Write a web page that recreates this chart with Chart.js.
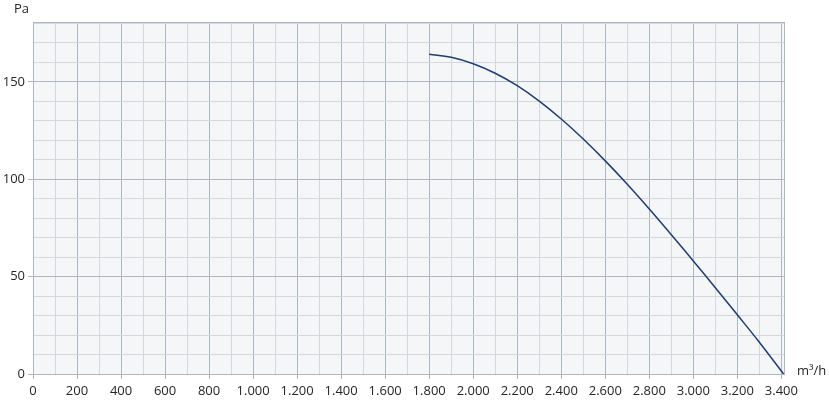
<!DOCTYPE html>
<html>
<head>
<meta charset="utf-8">
<script src="https://cdn.jsdelivr.net/npm/chart.js@4.4.0/dist/chart.umd.min.js"></script>
<style>
  html, body { margin: 0; padding: 0; background: #fff; }
  #wrap { width: 829px; height: 401px; }
</style>
</head>
<body>
<div id="wrap"><canvas id="fanChart"></canvas></div>
<script>
// Fan curve
const flowRates = [1800, 1900, 2000, 2100, 2200, 2300, 2400, 2500, 2600, 2700, 2800, 2900, 3000, 3100, 3200, 3300, 3410];
const pressures = [164.2, 162.6, 159.3, 154.4, 148.0, 140.1, 130.9, 120.6, 109.4, 97.4, 84.7, 71.5, 58.0, 44.3, 30.4, 16.3, 0];

// Axis ranges: grid every 100 m³/h / 10 Pa, labels every 200 / 50
const xMin = 0, xMax = 3412, xGridMax = 3400, xStep = 100, xLabelStep = 200;
const yMin = 0, yMax = 180.7, yGridMax = 180, yStep = 10, yLabelStep = 50;
const yUnit = 'Pa';
const xUnit = 'm³/h';

const majorGrid = '#aeb6c1';
const minorGrid = '#d4d7dc';
const textColor = '#262626';

const fmt = v => String(v).replace(/\B(?=(\d{3})+(?!\d))/g, '.');

// ticks every step up to gridMax, plus the scale end
const buildTicks = (min, gridMax, step, max) => scale => {
    const ticks = [];
    for (let v = min; v <= gridMax; v += step) ticks.push({ value: v });
    if (max > gridMax) ticks.push({ value: max });
    scale.ticks = ticks;
};

const plotBackground = {
    id: 'plotBackground',
    beforeDraw(chart) {
        const { ctx, chartArea: a } = chart;
        ctx.save();
        ctx.fillStyle = '#f5f6f8';
        ctx.fillRect(a.left, a.top, a.right - a.left, a.bottom - a.top);
        ctx.restore();
    }
};

const unitLabels = {
    id: 'unitLabels',
    afterDraw(chart) {
        const { ctx, chartArea: a } = chart;
        ctx.save();
        ctx.fillStyle = textColor;
        ctx.font = '13px "Open Sans", sans-serif';
        ctx.textBaseline = 'middle';
        ctx.textAlign = 'left';
        ctx.fillText(yUnit, 14, 9);
        ctx.fillText(xUnit, a.right + 13, a.bottom - 3);
        ctx.restore();
    }
};

Chart.defaults.font.family = '"Open Sans", sans-serif';
Chart.defaults.font.size = 13;
Chart.defaults.color = textColor;

const isMajor = (v, step, max) => v % step === 0 || v === max;

new Chart(document.getElementById('fanChart'), {
    type: 'line',
    data: {
        datasets: [{
            data: flowRates.map((x, i) => ({ x, y: pressures[i] })),
            borderColor: '#1f3d70',
            borderWidth: 1.5,
            pointRadius: 0,
            fill: false,
            tension: 0.4
        }]
    },
    options: {
        responsive: true,
        maintainAspectRatio: false,
        animation: false,
        layout: { padding: { top: 22, right: 45, left: 0, bottom: 0 } },
        plugins: { legend: { display: false }, tooltip: { enabled: false } },
        scales: {
            x: {
                type: 'linear',
                min: xMin, max: xMax,
                afterBuildTicks: buildTicks(xMin, xGridMax, xStep, xMax),
                afterFit: s => { s.height = 27; },
                ticks: {
                    autoSkip: false,
                    maxRotation: 0,
                    padding: 4,
                    callback: v => (v % xLabelStep === 0 ? fmt(v) : '')
                },
                grid: {
                    tickLength: 5,
                    color: c => (c.tick && isMajor(c.tick.value, xLabelStep, xMax) ? majorGrid : minorGrid),
                    tickColor: c => (c.tick && c.tick.value % xLabelStep === 0 ? majorGrid : 'rgba(0,0,0,0)')
                },
                border: { color: majorGrid }
            },
            y: {
                min: yMin, max: yMax,
                afterBuildTicks: buildTicks(yMin, yGridMax, yStep, yMax),
                afterFit: s => { s.width = 33; },
                ticks: {
                    autoSkip: false,
                    padding: 3,
                    callback: v => (v % yLabelStep === 0 ? fmt(v) : '')
                },
                grid: {
                    tickLength: 5,
                    color: c => (c.tick && isMajor(c.tick.value, yLabelStep, yMax) ? majorGrid : minorGrid),
                    tickColor: c => (c.tick && c.tick.value % yLabelStep === 0 ? majorGrid : 'rgba(0,0,0,0)')
                },
                border: { color: majorGrid }
            }
        }
    },
    plugins: [plotBackground, unitLabels]
});
</script>
</body>
</html>
